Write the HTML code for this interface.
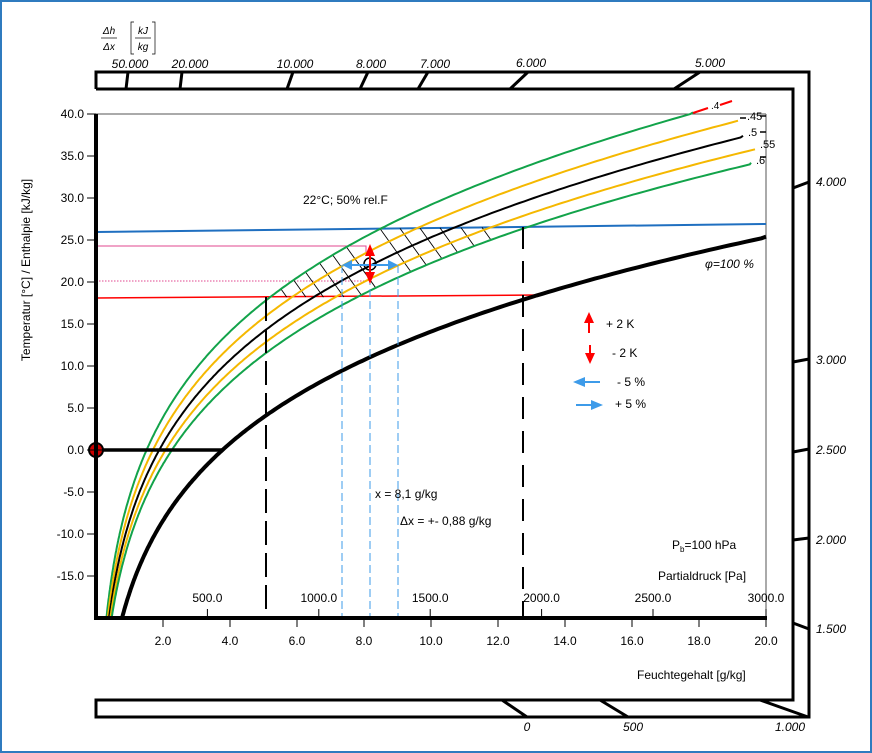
<!DOCTYPE html>
<html><head><meta charset="utf-8"><style>
html,body{margin:0;padding:0;background:#fff}
svg{display:block}
text{font-family:"Liberation Sans",sans-serif;font-size:12px;fill:#000}
</style></head><body>
<svg id="s" width="872" height="753" viewBox="0 0 872 753" xmlns="http://www.w3.org/2000/svg">
<rect x="1" y="1" width="870" height="751" fill="#fff" stroke="#2f7bbf" stroke-width="2"/>
<g fill="none" stroke="#000" stroke-width="3">
<path d="M96 89 V72 H809 V717 H96 V700 H793 V89 H96"/>
<path d="M126 89 L128 72 M180 89 L182 72 M287 89 L293 72 M360 89 L368 72 M418 89 L428 72 M510 89 L528 72 M674 89 L700 72"/>
<path d="M502 700 L527 717 M600 700 L628 717 M760 700 L808 717"/>
<path d="M793 188 L809 182 M793 362 L809 359 M793 452 L809 449 M793 540 L809 538 M793 623 L809 629"/>
</g>
<g>
<text x="130" y="68" text-anchor="middle" style="font-style:italic">50.000</text>
<text x="190" y="68" text-anchor="middle" style="font-style:italic">20.000</text>
<text x="295" y="68" text-anchor="middle" style="font-style:italic">10.000</text>
<text x="371" y="68" text-anchor="middle" style="font-style:italic">8.000</text>
<text x="435" y="68" text-anchor="middle" style="font-style:italic">7.000</text>
<text x="531" y="67" text-anchor="middle" style="font-style:italic">6.000</text>
<text x="710" y="67" text-anchor="middle" style="font-style:italic">5.000</text>
<text x="816" y="186" style="font-style:italic">4.000</text>
<text x="816" y="364" style="font-style:italic">3.000</text>
<text x="816" y="454" style="font-style:italic">2.500</text>
<text x="816" y="544" style="font-style:italic">2.000</text>
<text x="816" y="633" style="font-style:italic">1.500</text>
<text x="527" y="731" text-anchor="middle" style="font-style:italic">0</text>
<text x="633" y="731" text-anchor="middle" style="font-style:italic">500</text>
<text x="790" y="731" text-anchor="middle" style="font-style:italic">1.000</text>
</g>
<g>
<text x="109" y="34" style="font-size:10px;font-style:italic" text-anchor="middle">Δh</text>
<line x1="101" y1="38" x2="117" y2="38" stroke="#000" stroke-width="0.7"/>
<text x="109" y="50" style="font-size:10px;font-style:italic" text-anchor="middle">Δx</text>
<text x="143" y="34" style="font-size:10px;font-style:italic" text-anchor="middle">kJ</text>
<line x1="135" y1="38" x2="151" y2="38" stroke="#000" stroke-width="0.7"/>
<text x="143" y="50" style="font-size:10px;font-style:italic" text-anchor="middle">kg</text>
<path d="M134 22 H131 V54 H134 M152 22 H155 V54 H152" fill="none" stroke="#000" stroke-width="0.7"/>
</g>
<g id="plot"></g>
<text x="30" y="270" transform="rotate(-90 30 270)" text-anchor="middle">Temperatur [°C] / Enthalpie [kJ/kg]</text>
<text x="303" y="204">22°C; 50% rel.F</text>
<text x="705" y="268" style="font-style:italic">φ=100  %</text>
<text x="606" y="328">+ 2 K</text>
<text x="612" y="357">- 2 K</text>
<text x="617" y="386">- 5 %</text>
<text x="615" y="408">+ 5 %</text>
<text x="375" y="498">x = 8,1 g/kg</text>
<text x="400" y="525">Δx = +- 0,88 g/kg</text>
<text x="672" y="549">P<tspan style="font-size:8px" dy="3">b</tspan><tspan dy="-3">=100 hPa</tspan></text>
<text x="658" y="580">Partialdruck [Pa]</text>
<text x="637" y="679">Feuchtegehalt [g/kg]</text>
<text x="711" y="109" style="font-size:10px">.4</text>
<text x="747" y="120" style="font-size:11px">.45</text>
<text x="748" y="136" style="font-size:11px">.5</text>
<text x="760" y="148" style="font-size:11px">.55</text>
<text x="756" y="164" style="font-size:11px">.6</text>
</svg>
<script>
var NS="http://www.w3.org/2000/svg",g=document.getElementById("plot");
function el(n,a){var e=document.createElementNS(NS,n);for(var k in a)e.setAttribute(k,a[k]);g.appendChild(e);return e;}
function Y(T){return 450-T*8.4;}
function Tof(y){return (450-y)/8.4;}
function s(T){return Math.exp(4.84+0.0732*T-0.00029*T*T);}
function X(phi,T){return 96+phi*s(T);}
function curve(phi,xend,tmax,col,w){var d="";for(var T=-20;T<=tmax;T+=0.2){var x=X(phi,T);if(x>xend){x=xend;T=T;}d+=(d?"L":"M")+x.toFixed(1)+" "+Y(T).toFixed(1);if(x>=xend)break;}el("path",{d:d,fill:"none",stroke:col,"stroke-width":w});}
el("line",{x1:96,y1:114,x2:766,y2:114,stroke:"#555","stroke-width":1});
el("line",{x1:766,y1:114,x2:766,y2:618,stroke:"#555","stroke-width":1});
el("line",{x1:96,y1:232,x2:766,y2:224,stroke:"#1f6fc0","stroke-width":2});
el("line",{x1:96,y1:298,x2:538,y2:295,stroke:"#f00","stroke-width":1.5});
el("path",{d:"M96 246 H366 V254",fill:"none",stroke:"#e0478f","stroke-width":1});
el("line",{x1:96,y1:281,x2:366,y2:281,stroke:"#e0478f","stroke-width":1,"stroke-dasharray":"1.5 1.5"});
function blueY(x){return 232-(x-96)*8/670;}
function redY(x){return 298-(x-96)*3/442;}
function hatch(x,y){var dx=0.58,dy=0.81,x0=x,y0=y;for(var i=0;i<300;i++){x+=dx;y+=dy;if(y>=redY(x))break;if(x>=X(0.6,Tof(y)))break;}
 el("line",{x1:x0,y1:y0,x2:x,y2:y,stroke:"#000","stroke-width":0.9});}
[247,255,263,272,280,289].forEach(function(yy){var T=Tof(yy);hatch(X(0.4,T),yy);});
[380,400,420,440,461,482].forEach(function(x){hatch(x,blueY(x));});
curve(0.4,693,40.2,"#12a34a",2);
curve(0.45,738,40,"#f5b800",2);
curve(0.5,743,40,"#000",2);
curve(0.55,755,40,"#f5b800",2);
curve(0.6,751,40,"#12a34a",2);
curve(1.0,766,28,"#000",4);
el("path",{d:"M693 113 L708 108 M720 105 L732 101",stroke:"#f00","stroke-width":2});
el("path",{d:"M740 118 H746 M760 116 H766 M760 132 H766 M760 157 H766",stroke:"#000","stroke-width":1.5});
el("line",{x1:266,y1:297,x2:266,y2:618,stroke:"#000","stroke-width":2,"stroke-dasharray":"24 8"});
el("line",{x1:523,y1:227,x2:523,y2:618,stroke:"#000","stroke-width":2,"stroke-dasharray":"22 12"});
[342,370,398].forEach(function(x){el("line",{x1:x,y1:265,x2:x,y2:618,stroke:"#3d9be9","stroke-width":1,"stroke-dasharray":"8 4"});});
el("line",{x1:96,y1:450,x2:223,y2:450,stroke:"#000","stroke-width":3.5});
el("circle",{cx:96,cy:450,r:7,fill:"#c00",stroke:"#000","stroke-width":2});
el("path",{d:"M90 450 H102 M96 444 V456",stroke:"#000","stroke-width":1});
el("circle",{cx:370,cy:264,r:6,fill:"none",stroke:"#000","stroke-width":1.5});
el("line",{x1:346,y1:265,x2:394,y2:265,stroke:"#3d9be9","stroke-width":2});
el("path",{d:"M342 265 L352 260 L352 270Z M398 265 L388 260 L388 270Z",fill:"#3d9be9"});
el("line",{x1:370,y1:250,x2:370,y2:278,stroke:"#f00","stroke-width":2});
el("path",{d:"M370 244 L365 256 L375 256Z M370 284 L365 272 L375 272Z",fill:"#f00"});
el("line",{x1:589,y1:318,x2:589,y2:333,stroke:"#f00","stroke-width":2});
el("path",{d:"M589 312 L584 323 L594 323Z",fill:"#f00"});
el("line",{x1:590,y1:345,x2:590,y2:358,stroke:"#f00","stroke-width":2});
el("path",{d:"M590 364 L585 353 L595 353Z",fill:"#f00"});
el("line",{x1:580,y1:382,x2:600,y2:382,stroke:"#3d9be9","stroke-width":2});
el("path",{d:"M573 382 L585 377 L585 387Z",fill:"#3d9be9"});
el("line",{x1:576,y1:405,x2:596,y2:405,stroke:"#3d9be9","stroke-width":2});
el("path",{d:"M603 405 L591 400 L591 410Z",fill:"#3d9be9"});
el("line",{x1:96,y1:114,x2:96,y2:620,stroke:"#000","stroke-width":4});
el("line",{x1:94,y1:618,x2:767,y2:618,stroke:"#000","stroke-width":4});
for(var i=0;i<=11;i++){var T=40-5*i,y=Y(T);el("line",{x1:87,y1:y,x2:96,y2:y,stroke:"#000","stroke-width":1});
 var t=el("text",{x:84,y:y+4,"text-anchor":"end"});t.textContent=T.toFixed(1);}
for(var v=2;v<=20;v+=2){var x=96+v*33.5;el("line",{x1:x,y1:618,x2:x,y2:627,stroke:"#000","stroke-width":1});
 var t=el("text",{x:x,y:645,"text-anchor":"middle"});t.textContent=v.toFixed(1);}
for(var p=500;p<=3000;p+=500){var x=p==3000?766:96+p*0.2228;el("line",{x1:x,y1:609,x2:x,y2:618,stroke:"#000","stroke-width":1});
 var t=el("text",{x:x,y:602,"text-anchor":"middle"});t.textContent=p.toFixed(1);}
</script>
</body></html>
